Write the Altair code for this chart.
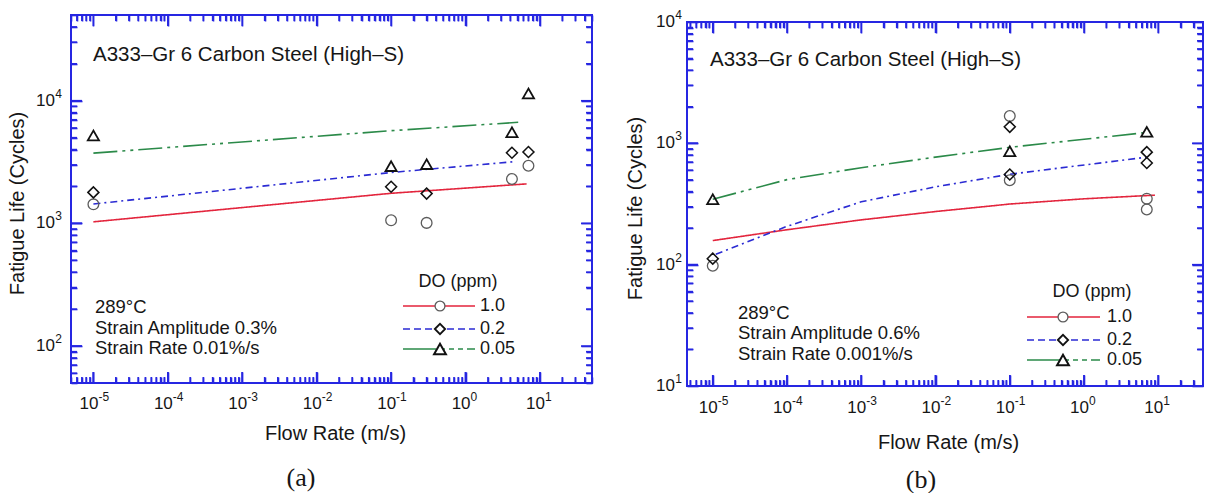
import math

import altair as alt
import pandas as pd

FONT = "Liberation Sans"
SERIF = "Liberation Serif"
FRAME = "#2626e2"
INK = "#161616"

# DO levels (ppm) and their drawing styles
SERIES = ["1.0", "0.2", "0.05"]
LINE_COLORS = ["#e3253d", "#2b2bd3", "#2b8a49"]
LINE_DASHES = [[1, 0], [7, 4, 2, 4], [24, 5, 3, 5, 3, 5]]
LEGEND_DASHES = [[1, 0], [7, 4], [33, 4, 5, 4, 5, 4, 5, 4]]
SHAPES = ["circle", "diamond", "triangle-up"]
MARK_COLORS = ["#5c5c5c", "#111111", "#111111"]
MARK_SIZES = [115, 125, 165]
MARK_WIDTHS = [1.3, 1.8, 2.0]

# decade tick labels: base "10" with a raised exponent
X_TICK_VALUES = [1e-5, 1e-4, 1e-3, 1e-2, 1e-1, 1e0, 1e1]
X_TICK_EXPONENTS = ["-5", "-4", "-3", "-2", "-1", "0", "1"]

# ---- (a) strain amplitude 0.3 %, strain rate 0.01 %/s ----
a_flow_10 = [1e-5, 0.1, 0.3, 4.2, 7.0]
a_life_10 = [1430, 1060, 1010, 2300, 2950]
a_flow_02 = [1e-5, 0.1, 0.3, 4.2, 7.0]
a_life_02 = [1790, 1990, 1750, 3770, 3820]
a_flow_005 = [1e-5, 0.1, 0.3, 4.2, 7.0]
a_life_005 = [5210, 2930, 3040, 5540, 11460]

a_fit_flow_10 = [1e-5, 0.1, 6.6]
a_fit_life_10 = [1030, 1760, 2100]
a_fit_flow_02 = [1e-5, 0.1, 4.6]
a_fit_life_02 = [1440, 2600, 3190]
a_fit_flow_005 = [1e-5, 0.1, 5.1]
a_fit_life_005 = [3740, 5700, 6670]

A_Y_TICK_VALUES = [1e2, 1e3, 1e4]
A_Y_TICK_EXPONENTS = ["2", "3", "4"]

# ---- (b) strain amplitude 0.6 %, strain rate 0.001 %/s ----
b_flow_10 = [1e-5, 0.1, 0.1, 7.0, 7.0]
b_life_10 = [98, 1680, 497, 350, 285]
b_flow_02 = [1e-5, 0.1, 0.1, 7.0, 7.0]
b_life_02 = [112, 1368, 553, 846, 688]
b_flow_005 = [1e-5, 0.1, 7.0]
b_life_005 = [346, 861, 1245]

b_fit_flow_10 = [1e-5, 1e-4, 1e-3, 1e-2, 0.1, 1.0, 9.0]
b_fit_life_10 = [158, 194, 234, 274, 316, 349, 374]
b_fit_flow_02 = [1.1e-5, 1e-4, 1e-3, 1e-2, 0.1, 7.0]
b_fit_life_02 = [122, 207, 330, 438, 556, 769]
b_fit_flow_005 = [1e-5, 1e-4, 1e-3, 1e-2, 0.1, 7.0]
b_fit_life_005 = [346, 502, 630, 770, 927, 1230]

B_Y_TICK_VALUES = [1e1, 1e2, 1e3, 1e4]
B_Y_TICK_EXPONENTS = ["1", "2", "3", "4"]

MATERIAL = "A333–Gr 6 Carbon Steel (High–S)"
TICK_W = 1.6


def long_table(flows, lives):
    rows = []
    for name, fx, fy in zip(SERIES, flows, lives):
        for x, y in zip(fx, fy):
            rows.append({"flow": x, "life": y, "DO": name})
    return pd.DataFrame(rows)


def log_ticks(lo, hi):
    k0, k1 = math.floor(math.log10(lo)), math.ceil(math.log10(hi))
    major, minor = [], []
    for k in range(k0, k1 + 1):
        for m in range(1, 10):
            v = float(f"{m}e{k}")
            if lo * 0.999 <= v <= hi * 1.001:
                (major if m == 1 else minor).append(v)
    return major, minor


def inward(edge, pixels, span_px, dom):
    """Data value lying `pixels` inside the frame from a log-scale `edge`."""
    decades = math.log10(dom[1]) - math.log10(dom[0])
    step = pixels / span_px * decades
    return edge * 10 ** step if edge == dom[0] else edge / 10 ** step


def tick_axis(orient, values, length, offset=0, **title):
    """Axis that only draws inward-pointing ticks (negative tick size)."""
    kw = dict(
        orient=orient, values=values, labels=False, domain=False, grid=False,
        ticks=True, tickColor=FRAME, tickWidth=TICK_W,
        tickSize=alt.ExprRef(expr=str(-length)), zindex=1,
    )
    if offset:
        kw["offset"] = alt.ExprRef(expr=str(-offset))
    if title:
        kw.update(title)
    else:
        kw["title"] = None
    return alt.Axis(**kw)


def panel(p):
    w, h, top = p["w"], p["h"], p["top"]
    xdom, ydom = p["xdom"], p["ydom"]
    xs = alt.Scale(type="log", domain=xdom)
    ys = alt.Scale(type="log", domain=ydom, range=[h, top])

    def X(field, axis=None):
        return alt.X(field, type="quantitative", scale=xs, axis=axis)

    def Y(field, axis=None):
        return alt.Y(field, type="quantitative", scale=ys, axis=axis)

    xmaj, xmin = log_ticks(*xdom)
    ymaj, ymin = log_ticks(*ydom)
    x_title = dict(
        title="Flow Rate (m/s)", titleFont=FONT, titleFontSize=20,
        titleFontWeight="normal", titleColor=INK,
        titleX=p["xtitle"][0], titleY=p["xtitle"][1], titleBaseline="middle",
    )
    y_title = dict(
        title="Fatigue Life (Cycles)", titleFont=FONT, titleFontSize=20,
        titleFontWeight="normal", titleColor=INK,
        titleX=p["ytitle"][0], titleY=p["ytitle"][1], titleBaseline="middle",
        titleAlign="center",
    )
    axis_pairs = [
        (tick_axis("bottom", xmaj, 11, **x_title), tick_axis("left", ymaj, 11, **y_title)),
        (tick_axis("bottom", xmin, 6), tick_axis("left", ymin, 6)),
        (tick_axis("top", xmaj, 11, offset=top), tick_axis("right", ymaj, 11)),
        (tick_axis("top", xmin, 6, offset=top), tick_axis("right", ymin, 6)),
    ]

    pts = long_table(p["flows"], p["lives"])
    fits = long_table(p["fit_flows"], p["fit_lives"])
    layers = []

    # plot frame
    layers.append(
        alt.Chart(pd.DataFrame({"f": [0]})).mark_rect(
            fillOpacity=0, stroke=FRAME, strokeWidth=2
        ).encode(x=alt.value(0), x2=alt.value(w), y=alt.value(top), y2=alt.value(h))
    )

    # tick-only axes on all four sides, carried by invisible points
    for ax_x, ax_y in axis_pairs:
        layers.append(
            alt.Chart(pts).mark_point(opacity=0).encode(x=X("flow", ax_x), y=Y("life", ax_y))
        )

    # the same inward ticks drawn as short rules from each frame edge
    for vals, length in ((xmaj, 11), (xmin, 6)):
        for edge in ydom:
            d = pd.DataFrame({"v": vals, "a": edge, "b": inward(edge, length, h - top, ydom)})
            layers.append(
                alt.Chart(d).mark_rule(color=FRAME, strokeWidth=TICK_W)
                .encode(x=X("v"), y=Y("a"), y2=alt.Y2("b"))
            )
    for vals, length in ((ymaj, 11), (ymin, 6)):
        for edge in xdom:
            d = pd.DataFrame({"v": vals, "a": edge, "b": inward(edge, length, w, xdom)})
            layers.append(
                alt.Chart(d).mark_rule(color=FRAME, strokeWidth=TICK_W)
                .encode(y=Y("v"), x=X("a"), x2=alt.X2("b"))
            )

    # fitted trend lines
    layers.append(
        alt.Chart(fits).mark_line(strokeWidth=1.6, clip=True).encode(
            x=X("flow"), y=Y("life"),
            color=alt.Color("DO:N", scale=alt.Scale(domain=SERIES, range=LINE_COLORS), legend=None),
            strokeDash=alt.StrokeDash("DO:N", scale=alt.Scale(domain=SERIES, range=LINE_DASHES), legend=None),
        )
    )

    # measured fatigue lives
    layers.append(
        alt.Chart(pts).mark_point(filled=False, opacity=1).encode(
            x=X("flow"), y=Y("life"),
            shape=alt.Shape("DO:N", scale=alt.Scale(domain=SERIES, range=SHAPES), legend=None),
            stroke=alt.Stroke("DO:N", scale=alt.Scale(domain=SERIES, range=MARK_COLORS), legend=None),
            size=alt.Size("DO:N", scale=alt.Scale(domain=SERIES, range=MARK_SIZES), legend=None),
            strokeWidth=alt.StrokeWidth("DO:N", scale=alt.Scale(domain=SERIES, range=MARK_WIDTHS), legend=None),
        )
    )

    # decade labels (and their major ticks along the bottom and left edges)
    xl = pd.DataFrame({"v": X_TICK_VALUES, "e": X_TICK_EXPONENTS})
    layers.append(
        alt.Chart(xl).mark_rule(color=FRAME, strokeWidth=TICK_W)
        .encode(x=X("v"), x2=alt.X2("v"), y=alt.value(h), y2=alt.value(h - 11))
    )
    layers.append(
        alt.Chart(xl).mark_text(text="10", align="right", baseline="middle", dx=5,
                                font=FONT, fontSize=17, color=INK)
        .encode(x=X("v"), y=alt.value(h + p["xlab_dy"]))
    )
    layers.append(
        alt.Chart(xl).mark_text(align="left", baseline="middle", dx=5, dy=-7,
                                font=FONT, fontSize=12, color=INK)
        .encode(x=X("v"), y=alt.value(h + p["xlab_dy"]), text="e:N")
    )
    yl = pd.DataFrame({"v": p["yvals"], "e": p["yexps"]})
    layers.append(
        alt.Chart(yl).mark_rule(color=FRAME, strokeWidth=TICK_W)
        .encode(y=Y("v"), y2=alt.Y2("v"), x=alt.value(0), x2=alt.value(11))
    )
    layers.append(
        alt.Chart(yl).mark_text(text="10", align="right", baseline="middle",
                                font=FONT, fontSize=17, color=INK)
        .encode(y=Y("v"), x=alt.value(-p["ylab_pad"] - 7))
    )
    layers.append(
        alt.Chart(yl).mark_text(align="right", baseline="middle", dy=-7,
                                font=FONT, fontSize=12, color=INK)
        .encode(y=Y("v"), x=alt.value(-p["ylab_pad"]), text="e:N")
    )

    def text(s, x, y, size, align="left", font=FONT):
        return alt.Chart(pd.DataFrame({"t": [s]})).mark_text(
            align=align, baseline="middle", font=font, fontSize=size, color=INK
        ).encode(x=alt.value(x), y=alt.value(y), text="t:N")

    # material and test conditions
    layers.append(text(MATERIAL, p["mat"][0], p["mat"][1], 20.5))
    for line, yy in zip(p["notes"], p["note_y"]):
        layers.append(text(line, p["note_x"], yy, 18.5))

    # legend
    lg = p["legend"]
    layers.append(text("DO (ppm)", lg["title"][0], lg["title"][1], 18, align="center"))
    for i, name in enumerate(SERIES):
        yy = lg["rows"][i]
        d = pd.DataFrame({"DO": [name]})
        layers.append(
            alt.Chart(d).mark_rule(color=LINE_COLORS[i], strokeWidth=1.6, strokeDash=LEGEND_DASHES[i]).encode(
                x=alt.value(lg["line"][0]), x2=alt.value(lg["line"][1]), y=alt.value(yy)
            )
        )
        layers.append(
            alt.Chart(d).mark_point(
                shape=SHAPES[i], filled=True, fill="white", stroke=MARK_COLORS[i],
                size=MARK_SIZES[i] * 0.85, strokeWidth=MARK_WIDTHS[i], opacity=1,
            ).encode(x=alt.value(lg["mark"]), y=alt.value(yy))
        )
        layers.append(text(name, lg["label"], yy, 18))

    # panel caption
    layers.append(text(p["caption"], p["cap"][0], p["cap"][1], 26, align="center", font=SERIF))

    return (
        alt.layer(*layers)
        .resolve_axis(x="independent", y="independent")
        .properties(width=w, height=h)
    )


left = panel({
    "w": 521, "h": 368, "top": 0, "xdom": [5e-6, 50], "ydom": [50, 5e4],
    "yvals": A_Y_TICK_VALUES, "yexps": A_Y_TICK_EXPONENTS,
    "xlab_dy": 21, "ylab_pad": 9, "xtitle": (264, 50), "ytitle": (-54, 188),
    "flows": [a_flow_10, a_flow_02, a_flow_005],
    "lives": [a_life_10, a_life_02, a_life_005],
    "fit_flows": [a_fit_flow_10, a_fit_flow_02, a_fit_flow_005],
    "fit_lives": [a_fit_life_10, a_fit_life_02, a_fit_life_005],
    "mat": (22, 40),
    "notes": ["289°C", "Strain Amplitude 0.3%", "Strain Rate 0.01%/s"],
    "note_x": 24, "note_y": [292, 313, 333],
    "legend": {"title": (387, 267), "rows": [291, 314, 334], "line": (332, 404), "mark": 369, "label": 409},
    "caption": "(a)", "cap": (230, 463),
})

right = panel({
    "w": 516, "h": 371, "top": 7, "xdom": [4.5e-6, 40], "ydom": [10, 1e4],
    "yvals": B_Y_TICK_VALUES, "yexps": B_Y_TICK_EXPONENTS,
    "xlab_dy": 22, "ylab_pad": 5, "xtitle": (261, 56), "ytitle": (-52, 193),
    "flows": [b_flow_10, b_flow_02, b_flow_005],
    "lives": [b_life_10, b_life_02, b_life_005],
    "fit_flows": [b_fit_flow_10, b_fit_flow_02, b_fit_flow_005],
    "fit_lives": [b_fit_life_10, b_fit_life_02, b_fit_life_005],
    "mat": (23, 45),
    "notes": ["289°C", "Strain Amplitude 0.6%", "Strain Rate 0.001%/s"],
    "note_x": 51, "note_y": [298, 318, 339],
    "legend": {"title": (405, 277), "rows": [302, 325, 345], "line": (340, 413), "mark": 376, "label": 420},
    "caption": "(b)", "cap": (234, 465),
})

chart = (
    alt.hconcat(left, right, spacing=32)
    .properties(padding={"left": 7, "top": 9, "right": 0, "bottom": 0}, background="white")
    .configure_view(strokeWidth=0)
)

chart.save("out.html", embed_options={"renderer": "svg", "actions": False})
